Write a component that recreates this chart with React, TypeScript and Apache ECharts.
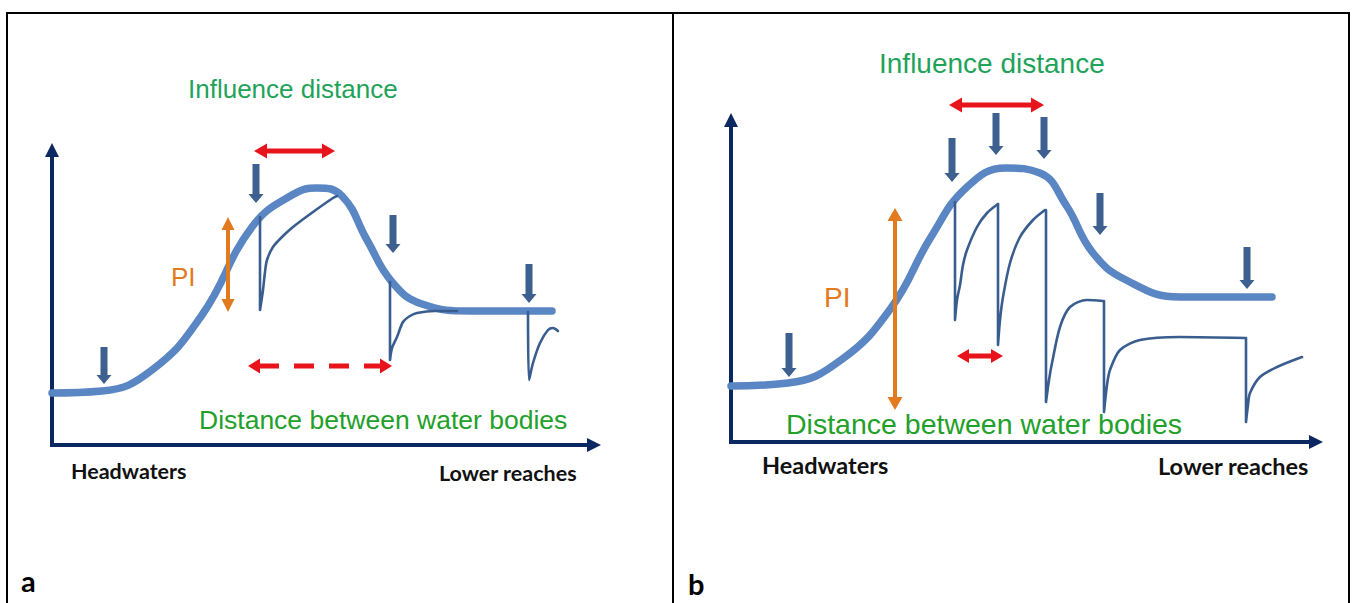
import React, { useEffect, useRef } from "react";
import * as echarts from "echarts";

// ---- Panel a (x: distance from headwaters, y: level above axis) ----
const thickA = [
  [0, 52], [50, 54], [100, 75], [150, 130], [200, 218], [240, 250], [265, 257],
  [290, 249], [315, 205], [340, 163], [370, 141], [420, 134], [500, 134],
];
const thinA1 = [[208, 228], [208, 135], [211, 155], [213, 173], [215, 185], [221, 198], [231, 209], [241, 218], [261, 233], [281, 247], [285, 249]];
const thinA2 = [[338, 163], [338, 85], [340, 97], [345, 108], [351, 123], [358, 129], [365, 132], [383, 134], [405, 134]];
const thinA3 = [[476, 133], [477, 65], [481, 82], [488, 102], [496, 115], [501, 117], [506, 114]];
const dropsA = [[52, 98, 52, 61], [204, 281, 204, 242], [341, 230, 341, 192], [477, 181, 477, 142]];
const influenceA = [[202, 294, 283, 294]];
const spacingA = [[196, 79, 340, 79]];
const piA = [[176, 228, 176, 133]];

// ---- Panel b ----
const thickB = [
  [0, 56], [57, 59], [110, 82], [160, 134], [200, 205], [236, 255], [275, 274],
  [309, 269], [335, 237], [362, 189], [395, 162], [449, 145], [541, 145],
];
const thinB1 = [[224, 240], [224, 122], [226, 142], [229, 157], [232, 177], [236, 192], [246, 215], [256, 229], [267, 238]];
const thinB2 = [[267, 238], [267, 97], [269, 122], [272, 145], [279, 179], [289, 205], [302, 222], [314, 232]];
const thinB3 = [[315, 232], [315, 40], [318, 62], [321, 79], [329, 115], [339, 135], [356, 142], [372, 141]];
const thinB4 = [[373, 141], [373, 30], [376, 57], [379, 72], [389, 92], [409, 102], [449, 105], [514, 104]];
const thinB5 = [[515, 104], [515, 20], [517, 37], [519, 49], [529, 65], [546, 75], [571, 85]];
const dropsB = [[58, 109, 58, 65], [221, 304, 221, 260], [265, 329, 265, 287], [313, 325, 313, 283], [369, 249, 369, 207], [516, 195, 516, 153]];
const influenceB = [[218, 337, 313, 337]];
const spacingB = [[226, 86, 272, 86]];
const piB = [[164, 234, 164, 32]];

const AXIS = "#0c2860";
const THICK = "#5a86c4";
const THIN = "#3a5d8f";
const DROP = "#3d6090";
const RED = "#e8141b";
const ORANGE = "#e27a1e";
const GREEN1 = "#1fa35a";
const GREEN2 = "#22a02a";

type ArrowOpt = { shaft: number; headW: number; headL: number; both: boolean; dashed?: boolean; color: string };

function arrowRender(o: ArrowOpt) {
  return (params: any, api: any) => {
    const a = api.coord([api.value(0), api.value(1)]);
    const b = api.coord([api.value(2), api.value(3)]);
    const dx = b[0] - a[0], dy = b[1] - a[1];
    const len = Math.hypot(dx, dy) || 1;
    const ux = dx / len, uy = dy / len, nx = -uy, ny = ux;
    const P = (t: number, n: number) => [a[0] + ux * t + nx * n, a[1] + uy * t + ny * n];
    const hs = o.shaft / 2, hw = o.headW / 2, hl = o.headL;
    const children: any[] = [];
    if (!o.dashed) {
      const pts = o.both
        ? [P(0, 0), P(hl, hw), P(hl, hs), P(len - hl, hs), P(len - hl, hw), P(len, 0), P(len - hl, -hw), P(len - hl, -hs), P(hl, -hs), P(hl, -hw)]
        : [P(0, hs), P(len - hl, hs), P(len - hl, hw), P(len, 0), P(len - hl, -hw), P(len - hl, -hs), P(0, -hs)];
      children.push({ type: "polygon", shape: { points: pts }, style: { fill: o.color } });
    } else {
      const s = P(hl - 1, 0), e = P(len - hl + 1, 0);
      children.push({ type: "line", shape: { x1: s[0], y1: s[1], x2: e[0], y2: e[1] }, style: { stroke: o.color, lineWidth: o.shaft, lineDash: [20, 15] } });
      children.push({ type: "polygon", shape: { points: [P(0, 0), P(hl, hw), P(hl, -hw)] }, style: { fill: o.color } });
      children.push({ type: "polygon", shape: { points: [P(len, 0), P(len - hl, hw), P(len - hl, -hw)] }, style: { fill: o.color } });
    }
    return { type: "group", children };
  };
}

function arrowSeries(data: number[][], idx: number, o: ArrowOpt, z = 5) {
  return {
    type: "custom",
    xAxisIndex: idx,
    yAxisIndex: idx,
    clip: false,
    z,
    silent: true,
    encode: { x: [0, 2], y: [1, 3] },
    renderItem: arrowRender(o),
    data,
  };
}

function lineSeries(data: number[][], idx: number, color: string, width: number, z: number, smooth: number) {
  return {
    type: "line",
    xAxisIndex: idx,
    yAxisIndex: idx,
    data,
    smooth,
    showSymbol: false,
    symbol: "none",
    clip: false,
    z,
    silent: true,
    lineStyle: { color, width, cap: "round", join: "round" },
  };
}

function axes(idx: number, xmax: number, ymax: number) {
  const line = {
    show: true,
    onZero: false,
    symbol: ["none", "triangle"],
    symbolSize: [14, 14],
    lineStyle: { color: AXIS, width: 4, cap: "square" },
  };
  return {
    x: { type: "value", gridIndex: idx, min: 0, max: xmax, axisLine: line, axisTick: { show: false }, axisLabel: { show: false }, splitLine: { show: false } },
    y: { type: "value", gridIndex: idx, min: 0, max: ymax, axisLine: line, axisTick: { show: false }, axisLabel: { show: false }, splitLine: { show: false } },
  };
}

const SANS = "'Liberation Sans', Arial, sans-serif";
const LBL = "Lato, 'Open Sans', sans-serif";

function txt(text: string, x: number, y: number, size: number, fill: string, family: string, weight = "normal") {
  return {
    type: "text",
    x,
    y,
    silent: true,
    style: { text, fontSize: size, fontFamily: family, fontWeight: weight, fill, align: "left", verticalAlign: "middle" },
  };
}

export default function App() {
  const ref = useRef<HTMLDivElement>(null);
  useEffect(() => {
    if (!ref.current) return;
    const chart = echarts.init(ref.current, null, { renderer: "svg" });
    const aA = axes(0, 542, 295);
    const aB = axes(1, 585, 322);
    chart.setOption({
      animation: false,
      backgroundColor: "#ffffff",
      grid: [
        { left: 52, top: 150, width: 542, height: 295, containLabel: false },
        { left: 731, top: 120, width: 585, height: 322, containLabel: false },
      ],
      xAxis: [aA.x, aB.x],
      yAxis: [aA.y, aB.y],
      series: [
        lineSeries(thickA, 0, THICK, 7.5, 2, 0.45),
        lineSeries(thinA1, 0, THIN, 2.6, 3, 0.3),
        lineSeries(thinA2, 0, THIN, 2.6, 3, 0.3),
        lineSeries(thinA3, 0, THIN, 2.6, 3, 0.3),
        arrowSeries(dropsA, 0, { shaft: 7, headW: 15, headL: 9, both: false, color: DROP }),
        arrowSeries(influenceA, 0, { shaft: 5, headW: 15, headL: 13, both: true, color: RED }),
        arrowSeries(spacingA, 0, { shaft: 5, headW: 15, headL: 12, both: true, dashed: true, color: RED }),
        arrowSeries(piA, 0, { shaft: 4, headW: 13, headL: 13, both: true, color: ORANGE }),

        lineSeries(thickB, 1, THICK, 7.5, 2, 0.45),
        lineSeries(thinB1, 1, THIN, 2.6, 3, 0.3),
        lineSeries(thinB2, 1, THIN, 2.6, 3, 0.3),
        lineSeries(thinB3, 1, THIN, 2.6, 3, 0.3),
        lineSeries(thinB4, 1, THIN, 2.6, 3, 0.3),
        lineSeries(thinB5, 1, THIN, 2.6, 3, 0.3),
        arrowSeries(dropsB, 1, { shaft: 7, headW: 15, headL: 9, both: false, color: DROP }),
        arrowSeries(influenceB, 1, { shaft: 5, headW: 15, headL: 13, both: true, color: RED }),
        arrowSeries(spacingB, 1, { shaft: 5, headW: 14, headL: 12, both: true, color: RED }),
        arrowSeries(piB, 1, { shaft: 4, headW: 15, headL: 13, both: true, color: ORANGE }),
      ],
      graphic: [
        { type: "line", silent: true, shape: { x1: 6, y1: 13, x2: 1350, y2: 13 }, style: { stroke: "#000", lineWidth: 2 } },
        { type: "line", silent: true, shape: { x1: 7, y1: 12, x2: 7, y2: 620 }, style: { stroke: "#000", lineWidth: 2 } },
        { type: "line", silent: true, shape: { x1: 673, y1: 12, x2: 673, y2: 620 }, style: { stroke: "#000", lineWidth: 2 } },
        { type: "line", silent: true, shape: { x1: 1349, y1: 12, x2: 1349, y2: 620 }, style: { stroke: "#000", lineWidth: 2 } },

        txt("Influence distance", 188, 89, 26, GREEN1, SANS),
        txt("PI", 171, 277, 26, ORANGE, SANS),
        txt("Distance between water bodies", 199, 420, 26.5, GREEN2, SANS),
        txt("Headwaters", 71, 471, 21.5, "#111", LBL, "bold"),
        txt("Lower reaches", 439, 473, 21.5, "#111", LBL, "bold"),
        txt("a", 21, 580, 29, "#000", LBL, "bold"),

        txt("Influence distance", 879, 63, 28, GREEN1, SANS),
        txt("PI", 824, 297, 28, ORANGE, SANS),
        txt("Distance between water bodies", 786, 424, 28.5, GREEN2, SANS),
        txt("Headwaters", 762, 465, 23.5, "#111", LBL, "bold"),
        txt("Lower reaches", 1158, 466, 23.5, "#111", LBL, "bold"),
        txt("b", 688, 583, 29, "#000", LBL, "bold"),
      ],
    });
    return () => chart.dispose();
  }, []);
  return <div ref={ref} style={{ position: "fixed", left: 0, top: 0, width: 1355, height: 603 }} />;
}
